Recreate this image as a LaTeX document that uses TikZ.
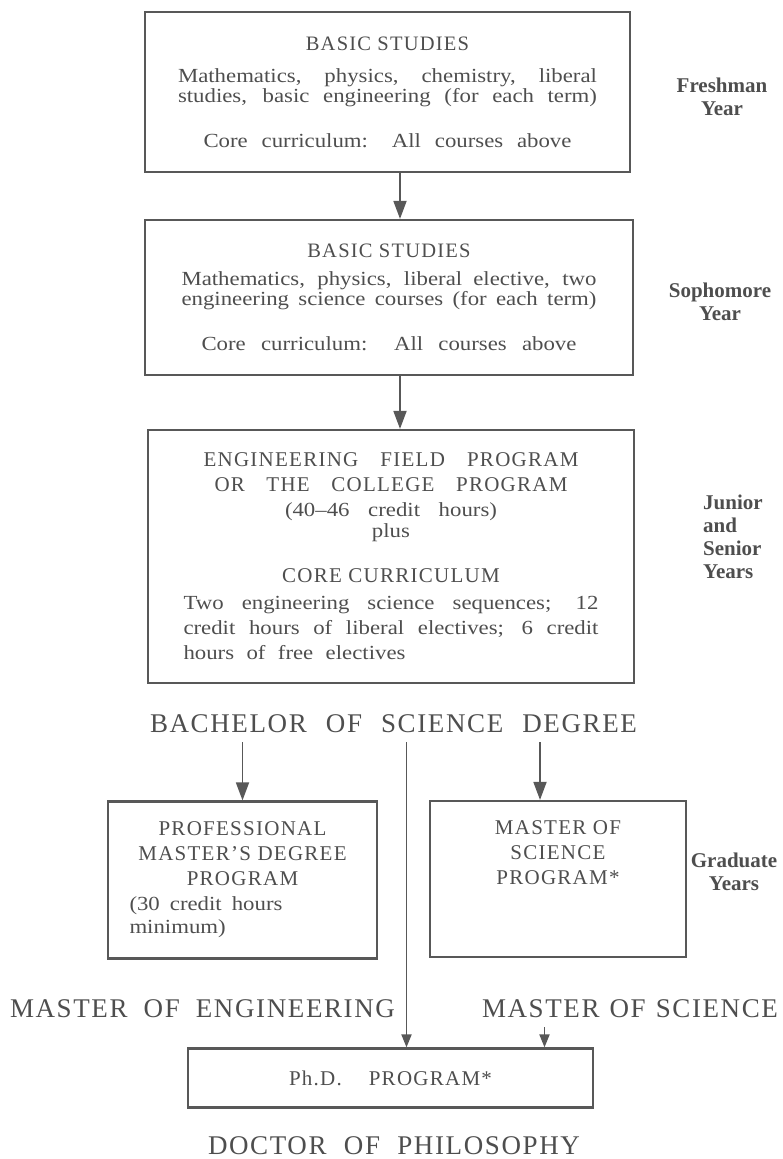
\documentclass[tikz,border=0pt]{standalone}
\usepackage{fontspec}
\setmainfont{Liberation Serif}
\newfontfamily\bodyface{Liberation Serif}[Ligatures=TeX,FakeStretch=1.14]
\newfontfamily\capface{Liberation Serif}[Ligatures=TeX,LetterSpace=6]
\usetikzlibrary{arrows.meta,positioning}

\definecolor{ink}{RGB}{78,78,78}
\definecolor{rule}{RGB}{88,88,88}

\newcommand{\boxfont}{\bodyface\fontsize{20}{20}\selectfont}
\newcommand{\headfont}{\capface\fontsize{21}{20}\selectfont}
\newcommand{\bigfont}{\capface\fontsize{27}{30}\selectfont}
\newcommand{\yearfont}{\bfseries\fontsize{21}{23}\selectfont}
\newcommand{\hd}[1]{{\headfont #1}}
\newcommand{\fillto}[2]{\makebox[#1][s]{#2}}

\tikzset{
  stagebox/.style={draw=rule, line width=2.2pt, inner sep=0pt, text=ink, font=\boxfont, align=center},
  degree/.style={inner sep=0pt, outer ysep=10pt, text=ink, font=\bigfont, anchor=base},
  yearnote/.style={inner sep=0pt, text=ink, font=\yearfont, anchor=north, align=center},
  line/.style={draw=rule, line width=1.8pt, -{Triangle[length=18pt,width=13pt]}},
  shortline/.style={line, -{Triangle[length=13pt,width=10pt]}}
}

\begin{document}
\begin{tikzpicture}[x=1pt,y=-1pt]
  \useasboundingbox (0,0) rectangle (783,1159);

  % Undergraduate stages
  \node (s1) [stagebox, minimum width=485pt, minimum height=160pt] at (387.5,92)
    {{\capface\fontsize{20.5}{20}\selectfont BASIC STUDIES}\\[12pt]
     \fillto{419pt}{Mathematics, physics, chemistry, liberal}\\
     \fillto{419pt}{studies, basic engineering (for each term)}\\[25pt]
     \fillto{368pt}{Core curriculum: All courses above}};
  \node (s2) [stagebox, minimum width=488pt, minimum height=155pt] at (389,297.5)
    {{\capface\fontsize{20.5}{20}\selectfont BASIC STUDIES}\\[8pt]
     \fillto{415pt}{Mathematics, physics, liberal elective, two}\\
     \fillto{415pt}{engineering science courses (for each term)}\\[25pt]
     \fillto{375pt}{Core curriculum: All courses above}};
  \node (s3) [stagebox, minimum width=486pt, minimum height=253pt] at (391,556.5)
    {\fillto{375pt}{\hd{ENGINEERING FIELD PROGRAM}}\\[5pt]
     \fillto{353pt}{\hd{OR THE COLLEGE PROGRAM}}\\[5pt]
     \fillto{212pt}{(40--46 credit hours)}\\[1pt]
     plus\\[25pt]
     \hd{CORE CURRICULUM}\\[7pt]
     \fillto{415pt}{Two engineering science sequences; 12}\\[5pt]
     \fillto{415pt}{credit hours of liberal electives; 6 credit}\\[5pt]
     \makebox[415pt][l]{\fillto{222pt}{hours of free electives}}};

  % Graduate stages
  \node (pmd) [stagebox, minimum width=269pt, minimum height=157pt] at (242.5,880)
    {\hd{PROFESSIONAL}\\[5pt]
     \hd{MASTER'S DEGREE}\\[5pt]
     \hd{PROGRAM}\\[5pt]
     \makebox[226pt][l]{\fillto{153pt}{(30 credit hours}}\\[3pt]
     \makebox[226pt][l]{minimum)}};
  \node (msp) [stagebox, minimum width=256pt, minimum height=156pt] at (558,879)
    {\hd{MASTER OF}\\[5pt]
     \hd{SCIENCE}\\[5pt]
     \hd{PROGRAM*}\\[5pt]
     \vphantom{(}\\[3pt]
     \vphantom{)}};
  \node (phd) [stagebox, minimum width=405pt, minimum height=59pt] at (390.5,1078)
    {\fillto{203pt}{\hd{Ph.D. PROGRAM*}}};

  % Degrees
  \node (bsd) [degree] at (393.5,732) {\fillto{487pt}{BACHELOR OF SCIENCE DEGREE}};
  \node (meng) [degree] at (202.5,1017) {\fillto{385pt}{MASTER OF ENGINEERING}};
  \node (msci) [degree] at (630,1017) {\fillto{296pt}{MASTER OF SCIENCE}};
  \node (dphil) [degree] at (394,1154) {\fillto{372pt}{DOCTOR OF PHILOSOPHY}};

  % Years
  \node (yr1) [yearnote] at (722,78) {Freshman\\Year};
  \node (yr2) [yearnote] at (720,283) {Sophomore\\Year};
  \node (yr34) [yearnote, anchor=north west, align=left] at (703,495) {Junior\\and\\Senior\\Years};
  \node (yr5) [yearnote] at (734,853) {Graduate\\Years};

  % Arrows
  \path [line] ([xshift=12.5pt]s1.south) -- ([xshift=12.5pt]s1.south |- s2.north);
  \path [line] ([xshift=11pt]s2.south) -- ([xshift=11pt]s2.south |- s3.north);
  \path [line] (bsd.south -| pmd.north) -- (pmd.north);
  \path [line] ([xshift=-18pt]msp.north |- bsd.south) -- ([xshift=-18pt]msp.north);
  \path [shortline] ([xshift=16pt]phd.north |- bsd.south) -- ([xshift=16pt]phd.north);
  \path [shortline] ([xshift=154pt]phd.north |- msci.south) -- ([xshift=154pt]phd.north);
\end{tikzpicture}
\end{document}
